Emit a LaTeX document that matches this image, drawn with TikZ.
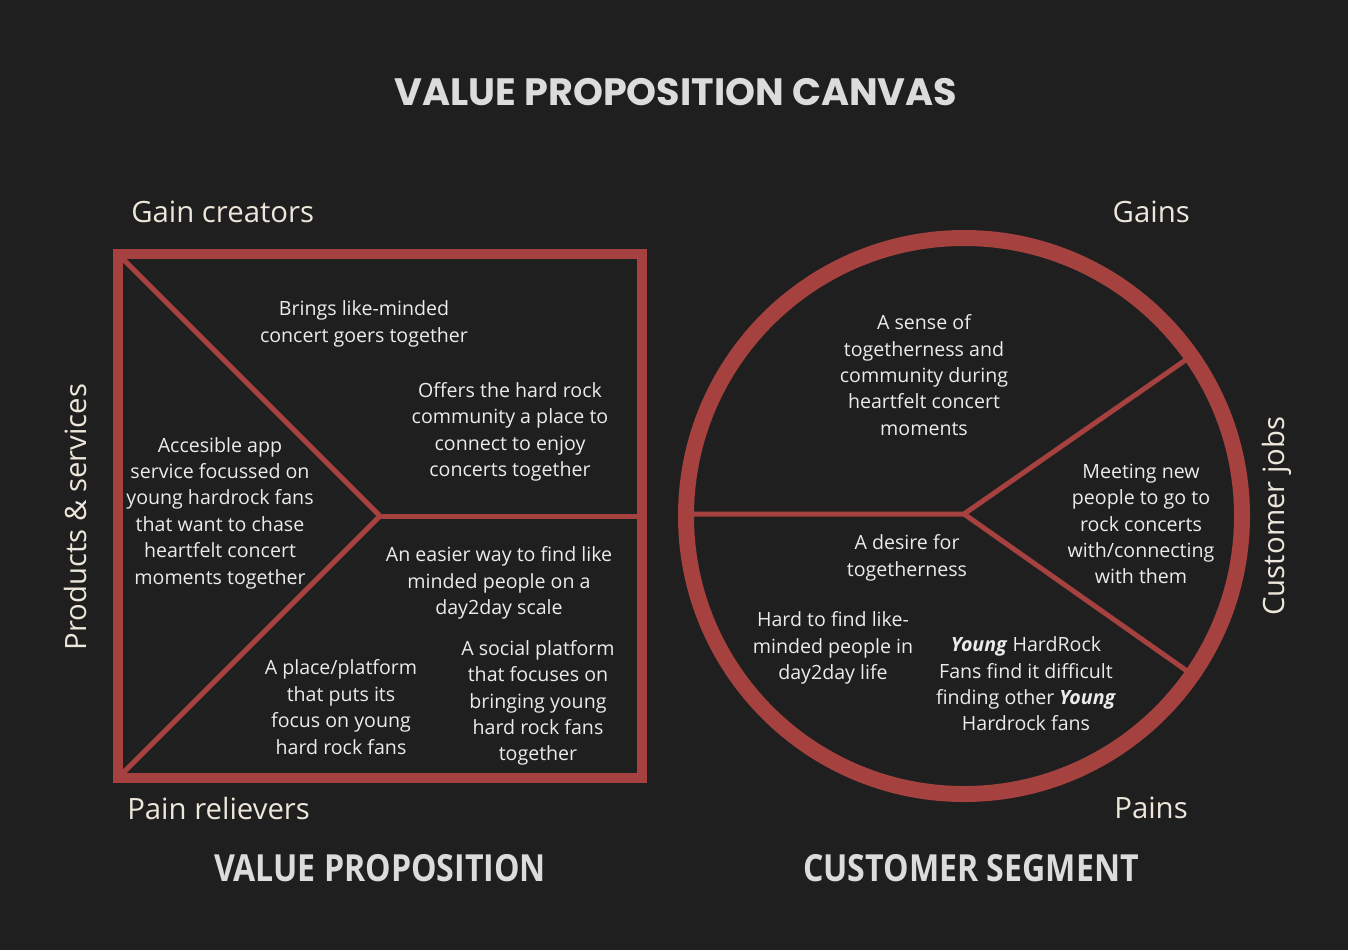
\documentclass[tikz,border=0pt]{standalone}
\usepackage{fontspec}
\setmainfont{Open Sans}
\newfontfamily\titlefont{Poppins}
\newfontfamily\headfont{Open Sans}[FakeStretch=0.86]
\definecolor{bg}{HTML}{1F1F1F}
\definecolor{vred}{HTML}{A5413E}
\definecolor{txt}{HTML}{EBEBEB}
\definecolor{lbl}{HTML}{EDE6DA}
\definecolor{ttl}{HTML}{DCDCDC}
\tikzset{
  body/.style={text=txt, align=center, font=\fontsize{14.7pt}{19.8pt}\selectfont, inner sep=0pt},
  lab/.style={text=lbl, font=\fontsize{22pt}{26pt}\selectfont, inner sep=0pt},
  head/.style={text=ttl, font=\headfont\bfseries\fontsize{28pt}{32pt}\selectfont, inner sep=0pt},
  frame/.style={draw=vred, line width=7.5pt},
  divider/.style={draw=vred, line width=3.75pt},
  ring/.style={draw=vred, line width=12pt}
}
\begin{document}
\begin{tikzpicture}[x=0.75pt,y=-0.75pt]
\fill[bg] (0,0) rectangle (1348,950);
\useasboundingbox (0,0) rectangle (1348,950);
% title
\node[text=ttl, font=\titlefont\bfseries\fontsize{28.6pt}{32pt}\selectfont, inner sep=0pt] (title) at (676,92) {VALUE PROPOSITION CANVAS};
% square
\coordinate (sqc) at (380,516);
\coordinate (sqtl) at (121,257);
\coordinate (sqbl) at (121,775);
\coordinate (sqr) at (640,516);
\draw[divider] (sqtl) -- (sqc) -- (sqbl);
\draw[divider] (sqc) -- (sqr);
\draw[frame] (118,254) rectangle (642,778);
% circle
\coordinate (cc) at (964,516);
\coordinate (cl) at (690,514);
\coordinate (cm) at (964,514);
\coordinate (cu) at (1187,359);
\coordinate (cd) at (1187,671);
\draw[divider] (cl) -- (cm) -- (cu);
\draw[divider] (cm) -- (cd);
\draw[ring] (cc) circle[radius=278];
% square texts
\node[body] (t1) at (364,324) {Brings like-minded\\concert goers together};
\node[body] (t2) at (510,432) {Offers the hard rock\\community a place to\\connect to enjoy\\concerts together};
\node[body] (t3) at (220,513) {Accesible app\\service focussed on\\young hardrock fans\\that want to chase\\heartfelt concert\\moments together};
\node[body] (t4) at (499,583) {An easier way to find like\\minded people on a\\day2day scale};
\node[body] (t5) at (341,707) {A place/platform\\that puts its\\focus on young\\hard rock fans};
\node[body] (t6) at (538,703) {A social platform\\that focuses on\\bringing young\\hard rock fans\\together};
% circle texts
\node[body] (c1) at (924,375) {A sense of\\togetherness and\\community during\\heartfelt concert\\moments};
\node[body] (c2) at (1141,524) {Meeting new\\people to go to\\rock concerts\\with/connecting\\with them};
\node[body] (c3) at (907,558) {A desire for\\togetherness};
\node[body] (c4) at (833,648) {Hard to find like-\\minded people in\\day2day life};
\node[body] (c5) at (1026,684) {\textbf{\textit{Young}} HardRock\\Fans find it difficult\\finding other \textbf{\textit{Young}}\\Hardrock fans};
% labels
\node[lab, anchor=west] (gc) at (131,212) {Gain creators};
\node[lab, anchor=east] (gn) at (1190,212) {Gains};
\node[lab, anchor=west] (pr) at (127,808) {Pain relievers};
\node[lab, anchor=east] (pn) at (1188,808) {Pains};
\node[lab, rotate=90] (ps) at (75,517) {Products \& services};
\node[lab, rotate=90] (cj) at (1277,516) {Customer jobs};
% headings
\node[head] (vp) at (380,868) {VALUE PROPOSITION};
\node[head] (cs) at (971,868) {CUSTOMER SEGMENT};
\end{tikzpicture}
\end{document}
